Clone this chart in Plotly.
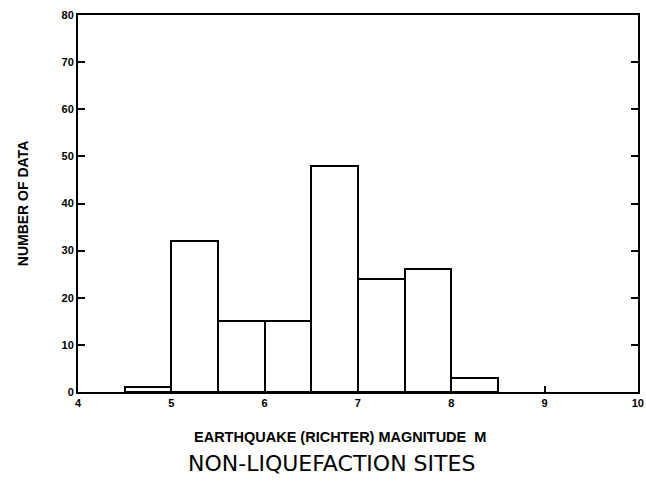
import plotly.graph_objects as go

# Histogram data: bin left edges (magnitude), bin width, counts
bin_left = [4.5, 5.0, 5.5, 6.0, 6.5, 7.0, 7.5, 8.0]
bin_width = 0.5
counts = [1, 32, 15, 15, 48, 24, 26, 3]

x_ticks = [4, 5, 6, 7, 8, 9, 10]
x_tick_labels = ["4", "5", "6", "7", "8", "9", "10"]
y_ticks = [0, 10, 20, 30, 40, 50, 60, 70, 80]
y_tick_labels = [str(v) for v in y_ticks]

x_title = "EARTHQUAKE (RICHTER) MAGNITUDE  M"
y_title = "NUMBER OF DATA"
sub_title = "NON-LIQUEFACTION SITES"

centers = [b + bin_width / 2 for b in bin_left]

fig = go.Figure()
fig.add_trace(go.Bar(
    x=centers, y=counts, width=[bin_width] * len(counts),
    marker=dict(color="white", line=dict(color="black", width=2)),
    showlegend=False, hoverinfo="x+y",
))

fig.update_layout(
    width=646, height=489,
    margin=dict(l=78, r=8, t=15, b=97),
    paper_bgcolor="white", plot_bgcolor="white",
    bargap=0,
    xaxis=dict(
        range=[4, 10.002], tickmode="array", tickvals=x_ticks, ticktext=x_tick_labels,
        showline=True, linecolor="black", linewidth=2, mirror=True,
        ticks="inside", ticklen=6, tickwidth=2, tickcolor="black",
        showgrid=False, zeroline=False, automargin=False, ticklabeloverflow="allow",
        tickfont=dict(family="Liberation Sans", size=11, color="black", weight="bold"),
    ),
    yaxis=dict(
        range=[0, 80], tickmode="array", tickvals=y_ticks, ticktext=y_tick_labels,
        showline=True, linecolor="black", linewidth=2, mirror="ticks",
        ticks="inside", ticklen=7, tickwidth=2, tickcolor="black",
        showgrid=False, zeroline=False, automargin=False,
        tickfont=dict(family="Liberation Sans", size=11, color="black", weight="bold"),
        title=dict(text=y_title, standoff=30,
                   font=dict(family="Liberation Sans", size=14, color="black", weight="bold")),
    ),
    annotations=[
        dict(text=x_title, xref="paper", yref="paper", x=0.468, y=(392 - 437) / 377,
             xanchor="center", yanchor="middle", showarrow=False,
             font=dict(family="Liberation Sans", size=14.5, color="black", weight="bold")),
        dict(text=sub_title, xref="paper", yref="paper", x=0.453, y=(392 - 463) / 377,
             xanchor="center", yanchor="middle", showarrow=False,
             font=dict(family="DejaVu Sans", size=22, color="black")),
    ],
)

fig.write_html("out.html")
